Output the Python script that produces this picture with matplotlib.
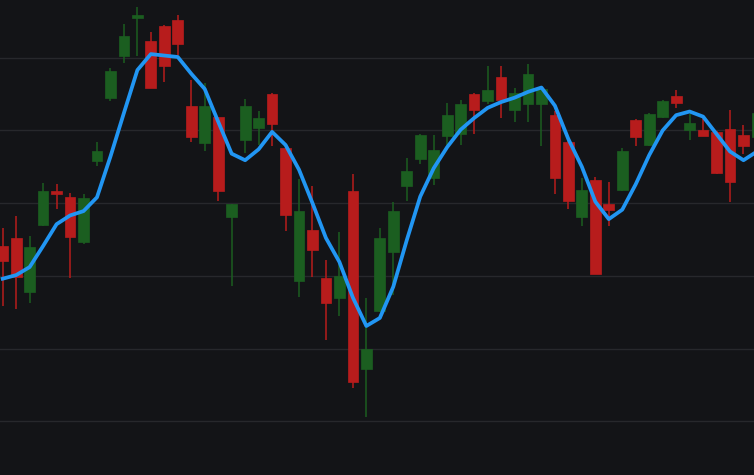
import matplotlib
matplotlib.use("Agg")
import matplotlib.pyplot as plt
import numpy as np


# candle data (open, high, low, close) and moving average
opens = [134.1, 135.2, 127.8, 137.0, 141.7, 140.8, 134.7, 145.8, 154.4, 160.3,
         165.5, 162.3, 164.4, 165.2, 153.4, 148.3, 151.8, 138.1, 148.7, 150.4,
         155.0, 147.6, 129.3, 136.3, 129.7, 126.9, 141.7, 117.2, 125.1, 133.3,
         142.4, 146.0, 143.5, 149.3, 149.5, 155.0, 154.0, 157.3, 152.8, 153.7,
         153.7, 152.1, 148.4, 138.1, 143.2, 139.9, 141.8, 151.4, 148.0, 151.9,
         154.7, 150.0, 150.0, 149.8, 150.2, 149.4, 149.1]
highs = [136.6, 138.2, 135.5, 142.8, 142.6, 141.4, 141.3, 148.4, 158.6, 164.6,
         167.0, 163.5, 164.5, 165.9, 156.9, 156.5, 151.9, 139.9, 154.3, 152.7,
         155.1, 147.7, 143.3, 142.4, 132.2, 136.0, 144.0, 126.9, 136.6, 140.2,
         146.2, 149.5, 149.4, 153.8, 154.2, 155.1, 158.9, 158.9, 155.8, 159.1,
         155.8, 152.7, 148.5, 143.5, 143.6, 142.9, 147.6, 151.6, 152.4, 154.2,
         155.6, 152.2, 151.6, 149.9, 152.8, 150.7, 153.0]
lows = [125.9, 125.5, 126.3, 136.9, 139.2, 129.7, 134.4, 145.1, 154.1, 159.3,
        160.3, 155.8, 156.7, 160.4, 148.4, 147.2, 140.3, 128.6, 146.9, 148.0,
        147.8, 136.1, 127.1, 129.9, 121.2, 124.5, 114.6, 110.6, 125.0, 127.3,
        140.3, 145.4, 142.5, 148.0, 148.0, 149.5, 153.6, 151.7, 151.1, 151.1,
        147.8, 141.3, 139.2, 136.9, 130.2, 136.9, 141.7, 147.8, 147.8, 151.7,
        153.1, 148.7, 149.2, 144.0, 140.2, 146.7, 148.5]
closes = [132.1, 129.8, 134.0, 141.7, 141.2, 135.4, 140.7, 147.2, 158.2, 163.0,
          165.9, 155.9, 158.9, 161.9, 149.1, 153.4, 141.6, 139.9, 153.4, 151.7,
          150.9, 138.3, 138.9, 133.5, 126.2, 130.0, 115.4, 120.0, 135.2, 138.9,
          144.4, 149.4, 147.3, 152.1, 153.6, 152.8, 155.6, 154.2, 155.1, 157.8,
          155.7, 143.5, 140.3, 141.8, 130.3, 139.0, 147.2, 149.1, 152.3, 154.0,
          153.8, 151.0, 149.3, 144.2, 142.9, 147.9, 152.4]
ma = [129.6, 130.1, 131.2, 134.1, 137.1, 138.3, 138.9, 140.8, 146.4, 152.4,
      158.3, 160.5, 160.3, 160.1, 157.8, 155.7, 151.2, 146.8, 145.9, 147.4,
      149.8, 148.0, 144.6, 140.0, 135.2, 131.9, 127.0, 123.1, 124.2, 128.5,
      134.9, 140.9, 144.8, 147.7, 150.1, 151.7, 153.1, 153.9, 154.5, 155.3,
      155.9, 153.4, 148.8, 145.0, 140.2, 137.8, 139.1, 142.6, 146.6, 150.0,
      152.1, 152.6, 151.9, 149.5, 147.1, 145.9, 147.1]
grid_levels = [110, 120, 130, 140, 150, 160]

bg = "#131417"
up_color = "#1b5e20"
down_color = "#b71c1c"

o = np.array(opens)
h = np.array(highs)
l = np.array(lows)
c = np.array(closes)
x = np.arange(len(o))
colors = np.where(c >= o, up_color, down_color)

fig = plt.figure(figsize=(7.54, 4.75), dpi=100, facecolor=bg)
ax = fig.add_axes([0, 0, 1, 1])
ax.set_facecolor(bg)

for lev in grid_levels:
    ax.axhline(lev, color="#27282c", lw=1.0, zorder=0)

ax.vlines(x, l, h, colors=colors, lw=1.1, zorder=2)
bottoms = np.minimum(o, c)
heights = np.maximum(np.abs(c - o), 0.3)
ax.bar(x, heights, bottom=bottoms, width=0.8, color=colors,
       edgecolor=colors, linewidth=0.5, zorder=3)

ax.plot(x, ma, color="#2196f3", lw=2.7, zorder=4)

ax.set_xlim(-0.2, 55.78)
ax.set_ylim(102.6, 167.94)
ax.set_xticks([])
ax.set_yticks([])
for s in ax.spines.values():
    s.set_visible(False)

fig.savefig("out.png", dpi=100, facecolor=bg)
